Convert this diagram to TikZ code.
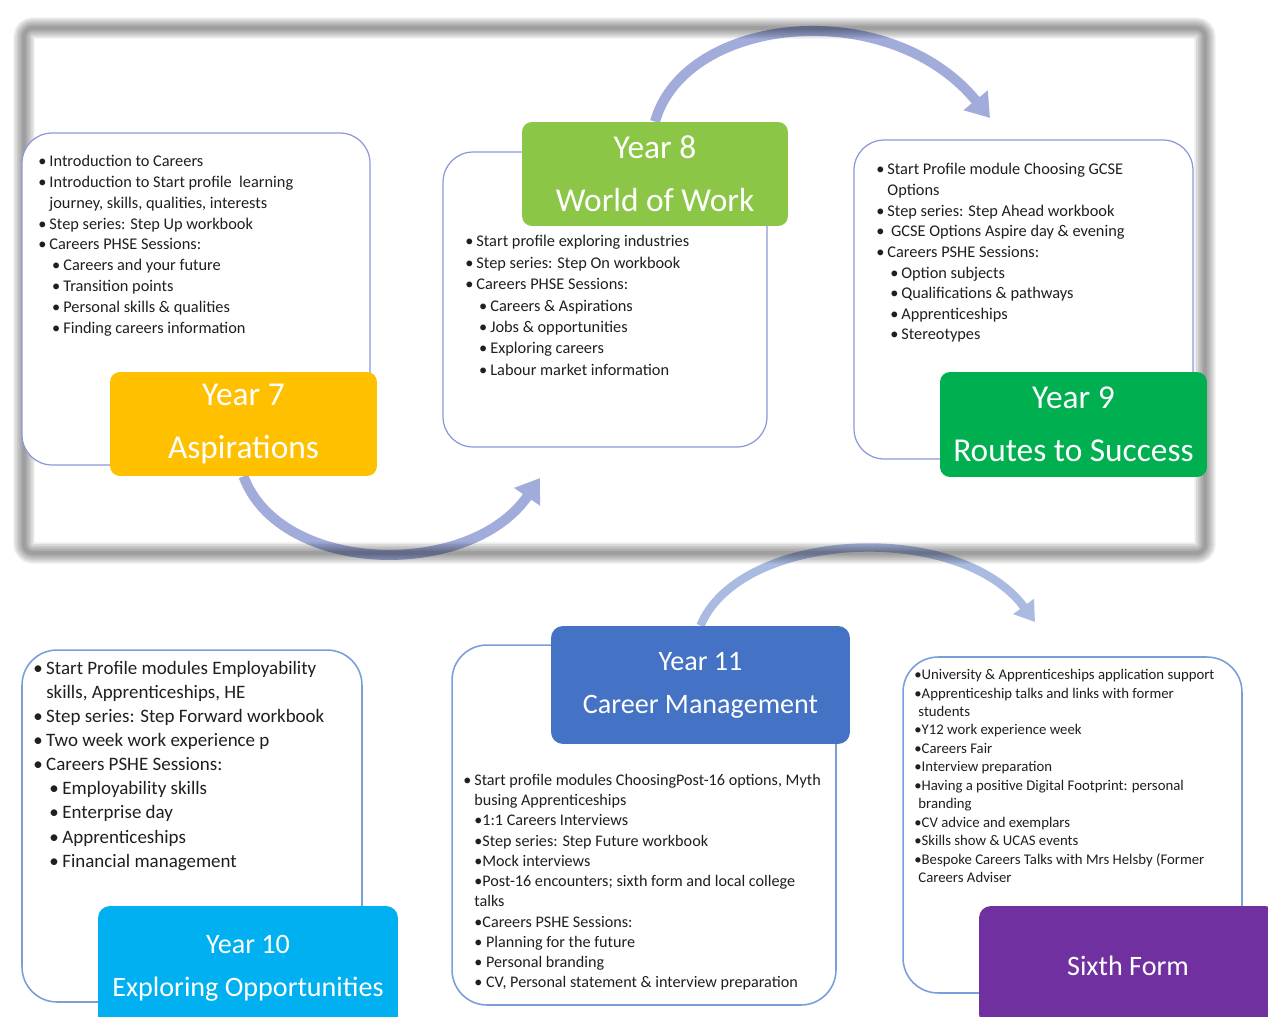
\documentclass[tikz,border=0pt]{standalone}
\usepackage{fontspec}
\setmainfont{Carlito}
\usetikzlibrary{arrows.meta}
\pgfdeclarelayer{back}
\pgfdeclarelayer{mid}
\pgfsetlayers{back,mid,main}
\definecolor{yrA}{HTML}{FFC000}
\definecolor{yrB}{RGB}{140,198,70}
\definecolor{yrC}{HTML}{00B050}
\definecolor{yrD}{HTML}{00B0F0}
\definecolor{yrE}{HTML}{4472C4}
\definecolor{yrF}{HTML}{7030A0}
\definecolor{boxA}{RGB}{140,152,215}
\definecolor{boxB}{RGB}{122,158,220}
\definecolor{arrA}{RGB}{162,172,218}
\definecolor{arrB}{RGB}{170,187,225}
\newcommand{\bul}{\makebox[0.68em][l]{•}}
\newcommand{\sbul}{\hspace*{0.85em}\bul}
\newcommand{\cont}{\hspace*{0.68em}}
\tikzset{
    BX1/.style ={rectangle, rounded corners=0.6cm, draw=boxA, line width=0.7pt, fill=white},
    BX2/.style ={rectangle, rounded corners=0.7cm, draw=boxB, line width=0.9pt, fill=white},
    LB1/.style ={rectangle, rounded corners=0.2cm, text=white, inner sep=0pt, align=center, font=\fontsize{19}{30}\selectfont},
    LB2/.style ={rectangle, rounded corners=0.24cm, text=white, inner sep=0pt, align=center, font=\fontsize{16}{24.4}\selectfont},
    TX/.style ={anchor=north west, inner sep=0pt, align=left, text=black!88},
    AR1/.style ={line width=5.7pt, draw=arrA, -{Triangle[width=17pt,length=13pt]}},
    AR2/.style ={line width=4.8pt, draw=arrB, -{Triangle[width=14pt,length=11pt]}}}

\begin{document}
\begin{tikzpicture}[x=0.02cm,y=-0.02cm]
    \useasboundingbox (0,0) rectangle (1268,1017);
    \clip (0,0) rectangle (1268,1017);
    \begin{pgfonlayer}{back}
        \fill[white] (0,0) rectangle (1268,1017);
    \end{pgfonlayer}
    \begin{pgfonlayer}{mid}
        \foreach \w in {12,10,8,6,4,2.2}
            \draw[line width=\w pt, black, opacity=0.075, rounded corners=5] (24,28) rectangle (1205,553);
    \end{pgfonlayer}

    % top row
    \node[BX1, minimum width=6.96cm, minimum height=6.64cm] (y7box) at (196,299) {};
    \node[BX1, minimum width=6.48cm, minimum height=5.9cm] (y8box) at (605,299.5) {};
    \node[BX1, minimum width=6.78cm, minimum height=6.38cm] (y9box) at (1023.5,299.5) {};
    \node[LB1, fill=yrA, minimum width=5.34cm, minimum height=2.08cm] (y7lbl) at (243.5,424) {Year 7\\Aspirations};
    \node[LB1, fill=yrB, minimum width=5.32cm, minimum height=2.08cm] (y8lbl) at (655,174) {Year 8\\World of Work};
    \node[LB1, fill=yrC, minimum width=5.34cm, minimum height=2.1cm] (y9lbl) at (1073.5,424.5) {Year 9\\Routes to Success};

    \node[TX, font=\fontsize{9.3}{11.85}\selectfont] (y7txt) at (38,155) {%
        \bul Introduction to Careers\\
        \bul Introduction to Start profile\ \ learning\\
        \cont journey, skills, qualities, interests\\
        \bul Step series: Step Up workbook\\
        \bul Careers PHSE Sessions:\\
        \sbul Careers and your future\\
        \sbul Transition points\\
        \sbul Personal skills \& qualities\\
        \sbul Finding careers information};
    \node[TX, font=\fontsize{9.3}{12.2}\selectfont] (y8txt) at (465,235) {%
        \bul Start profile exploring industries\\
        \bul Step series: Step On workbook\\
        \bul Careers PHSE Sessions:\\
        \sbul Careers \& Aspirations\\
        \sbul Jobs \& opportunities\\
        \sbul Exploring careers\\
        \sbul Labour market information};
    \node[TX, font=\fontsize{9.3}{11.76}\selectfont] (y9txt) at (876,163) {%
        \bul Start Profile module Choosing GCSE\\
        \cont Options\\
        \bul Step series: Step Ahead workbook\\
        \bul\ GCSE Options Aspire day \& evening\\
        \bul Careers PSHE Sessions:\\
        \sbul Option subjects\\
        \sbul Qualifications \& pathways\\
        \sbul Apprenticeships\\
        \sbul Stereotypes};

    % bottom row
    \node[BX2, minimum width=6.8cm, minimum height=7.04cm] (y10box) at (192,826) {};
    \node[BX2, minimum width=7.68cm, minimum height=7.2cm] (y11box) at (644,825) {};
    \node[BX2, minimum width=6.78cm, minimum height=6.72cm] (y12box) at (1072.5,825) {};
    \node[LB2, fill=yrD, minimum width=6cm, minimum height=2.48cm] (y10lbl) at (248,968) {Year 10\\Exploring Opportunities};
    \node[LB2, fill=yrE, minimum width=5.98cm, minimum height=2.36cm] (y11lbl) at (700.5,685) {Year 11\\Career Management};
    \node[LB2, fill=yrF, minimum width=5.96cm, minimum height=2.4cm] (y12lbl) at (1128,966) {Sixth Form};

    \node[TX, font=\fontsize{10.8}{13.7}\selectfont] (y10txt) at (33,661) {%
        \bul Start Profile modules Employability\\
        \cont skills, Apprenticeships, HE\\
        \bul Step series: Step Forward workbook\\
        \bul Two week work experience p\\
        \bul Careers PSHE Sessions:\\
        \sbul Employability skills\\
        \sbul Enterprise day\\
        \sbul Apprenticeships\\
        \sbul Financial management};
    \node[TX, font=\fontsize{9.2}{11.5}\selectfont] (y11txt) at (463,774) {%
        \bul Start profile modules ChoosingPost-16 options, Myth\\
        \cont busing Apprenticeships\\
        \cont •1:1 Careers Interviews\\
        \cont •Step series: Step Future workbook\\
        \cont •Mock interviews\\
        \cont •Post-16 encounters; sixth form and local college\\
        \cont talks\\
        \cont •Careers PSHE Sessions:\\
        \cont • Planning for the future\\
        \cont • Personal branding\\
        \cont • CV, Personal statement \& interview preparation};
    \node[TX, font=\fontsize{8.4}{10.5}\selectfont] (y12txt) at (914,669) {%
        •University \& Apprenticeships application support\\
        •Apprenticeship talks and links with former\\
        \hspace*{2.3pt}students\\
        •Y12 work experience week\\
        •Careers Fair\\
        •Interview preparation\\
        •Having a positive Digital Footprint: personal\\
        \hspace*{2.3pt}branding\\
        •CV advice and exemplars\\
        •Skills show \& UCAS events\\
        •Bespoke Careers Talks with Mrs Helsby (Former\\
        \hspace*{2.3pt}Careers Adviser};

    % arrows
    \coordinate (a1end) at (540,478);
    \coordinate (a2end) at (990,118);
    \coordinate (a3end) at (1035,622);
    \begin{pgfonlayer}{back}
        \draw[AR1] (y7lbl.south) .. controls (280,575) and (470,580) .. (a1end);
        \draw[AR1] (y8lbl.north) .. controls (685,15) and (890,-5) .. (a2end);
        \draw[AR2] (y11lbl.north) .. controls (740,530) and (960,520) .. (a3end);
    \end{pgfonlayer}
\end{tikzpicture}
\end{document}
